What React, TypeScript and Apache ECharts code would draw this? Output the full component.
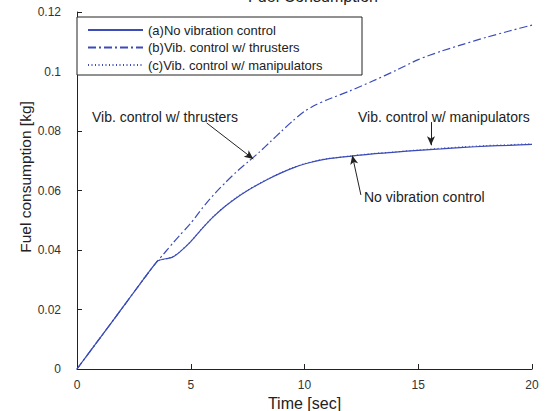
import React, { useEffect, useRef } from "react";
import * as echarts from "echarts";

const time = [0, 1, 2, 3, 3.4, 3.56, 3.8, 4, 4.2, 4.5, 5, 5.5, 6, 6.5, 7, 7.5, 8, 8.5, 9, 9.5, 10, 10.5, 11, 12, 13, 14, 15, 16, 17, 18, 19, 20];
const noControl = [0, 0.0103, 0.0206, 0.031, 0.035, 0.0364, 0.0369, 0.0372, 0.0376, 0.0392, 0.0428, 0.0472, 0.0512, 0.0546, 0.0575, 0.06, 0.0622, 0.0642, 0.066, 0.0676, 0.0689, 0.0699, 0.0706, 0.0715, 0.0723, 0.0729, 0.0735, 0.074, 0.0745, 0.0749, 0.0752, 0.0755];
const thrusters = [0, 0.0103, 0.0206, 0.031, 0.035, 0.0365, 0.0386, 0.0404, 0.0422, 0.0448, 0.049, 0.054, 0.0585, 0.0625, 0.0662, 0.0695, 0.0728, 0.0764, 0.08, 0.0835, 0.0866, 0.0888, 0.0905, 0.0935, 0.0968, 0.1003, 0.104, 0.1068, 0.1092, 0.1115, 0.1136, 0.1156];
const manipulators = [0, 0.0103, 0.0206, 0.031, 0.035, 0.0364, 0.0369, 0.0372, 0.0377, 0.0393, 0.0429, 0.0473, 0.0513, 0.0547, 0.0576, 0.0601, 0.0623, 0.0643, 0.0661, 0.0677, 0.069, 0.07, 0.0707, 0.0716, 0.0724, 0.073, 0.0736, 0.0742, 0.0747, 0.0751, 0.0754, 0.0757];

const seriesNames = ["(a)No vibration control", "(b)Vib. control w/ thrusters", "(c)Vib. control w/ manipulators"];
const xTicks = { min: 0, max: 20, interval: 5 };
const yTicks = { min: 0, max: 0.12, interval: 0.02 };

// annotation arrows: [start, end] in data units
const arrows = [
  [[5.7, 0.0827], [7.75, 0.0706]],
  [[15.56, 0.083], [15.56, 0.0752]],
  [[12.48, 0.0585], [12.1, 0.0718]],
];

const LINE_COLOR = "#3b4cb8";
const FONT = "Liberation Sans, Arial, sans-serif";

export default function App() {
  const ref = useRef<HTMLDivElement>(null);
  useEffect(() => {
    if (!ref.current) return;
    const chart = echarts.init(ref.current, null, { renderer: "svg" });
    const pairs = (vals: number[]) => time.map((t, i) => [t, vals[i]]);
    chart.setOption({
      animation: false,
      grid: { left: 77, right: 16, top: 12, bottom: 42, outerBoundsMode: "none", containLabel: false },
      title: {
        text: "Fuel Consumption",
        left: 308,
        top: -17,
        textAlign: "center",
        textStyle: { fontFamily: FONT, fontSize: 16, fontWeight: "normal", color: "#222" },
      },
      legend: {
        orient: "vertical",
        left: 87,
        top: 23.5,
        data: seriesNames,
        borderWidth: 0,
        padding: 0,
        itemWidth: 55,
        itemHeight: 13,
        itemGap: 4.5,
        itemTextGap: 3,
        itemStyle: { opacity: 0 },
        textStyle: { fontFamily: FONT, fontSize: 13, color: "#222" },
        z: 10,
      },
      xAxis: {
        type: "value",
        ...xTicks,
        axisLine: { lineStyle: { color: "#222", width: 1 } },
        axisTick: { inside: true, length: 5, lineStyle: { color: "#222" } },
        axisLabel: { fontFamily: FONT, fontSize: 12, color: "#333", margin: 10 },
        splitLine: { show: false },
        name: "Time [sec]",
        nameLocation: "middle",
        nameGap: 25,
        nameTextStyle: { fontFamily: FONT, fontSize: 16, color: "#222" },
      },
      yAxis: {
        type: "value",
        ...yTicks,
        axisLine: { show: true, lineStyle: { color: "#222", width: 1 } },
        axisTick: { show: true, inside: true, length: 5, lineStyle: { color: "#222" } },
        axisLabel: { fontFamily: FONT, fontSize: 12, color: "#333", margin: 16 },
        splitLine: { show: false },
      },
      graphic: [
        {
          type: "rect",
          z: 5,
          shape: { x: 77, y: 17, width: 285, height: 58 },
          style: { fill: "#fff", stroke: "#222", lineWidth: 1 },
        },
        {
          type: "text",
          x: 25,
          y: 177,
          rotation: Math.PI / 2,
          style: {
            text: "Fuel consumption [kg]",
            font: "15.5px " + FONT,
            fill: "#222",
            textAlign: "center",
            textVerticalAlign: "middle",
          },
        },
        {
          type: "text",
          x: 92,
          y: 117,
          style: { text: "Vib. control w/ thrusters", font: "14px " + FONT, fill: "#222", textVerticalAlign: "middle" },
        },
        {
          type: "text",
          x: 358,
          y: 117,
          style: { text: "Vib. control w/ manipulators", font: "14px " + FONT, fill: "#222", textVerticalAlign: "middle" },
        },
        {
          type: "text",
          x: 364,
          y: 197,
          style: { text: "No vibration control", font: "14px " + FONT, fill: "#222", textVerticalAlign: "middle" },
        },
      ],
      series: [
        {
          name: seriesNames[0],
          type: "line",
          data: pairs(noControl),
          smooth: 0.25,
          symbol: "none",
          lineStyle: { color: LINE_COLOR, width: 1.2, type: "solid" },
          itemStyle: { color: LINE_COLOR },
          markLine: {
            silent: true,
            symbol: ["none", "arrow"],
            symbolSize: [6, 9],
            label: { show: false },
            lineStyle: { color: "#222", width: 1, type: "solid" },
            data: arrows.map(([a, b]) => [{ coord: a }, { coord: b }]),
          },
        },
        {
          name: seriesNames[1],
          type: "line",
          data: pairs(thrusters),
          smooth: 0.25,
          symbol: "none",
          lineStyle: { color: LINE_COLOR, width: 1.2, type: [8, 3, 2, 3] },
          itemStyle: { color: LINE_COLOR },
        },
        {
          name: seriesNames[2],
          type: "line",
          data: pairs(manipulators),
          smooth: 0.25,
          symbol: "none",
          lineStyle: { color: LINE_COLOR, width: 1.2, type: [1, 2.5] },
          itemStyle: { color: LINE_COLOR },
        },
      ],
    });
    return () => chart.dispose();
  }, []);
  return <div ref={ref} style={{ width: 548, height: 411, position: "absolute", left: 0, top: 0 }} />;
}
